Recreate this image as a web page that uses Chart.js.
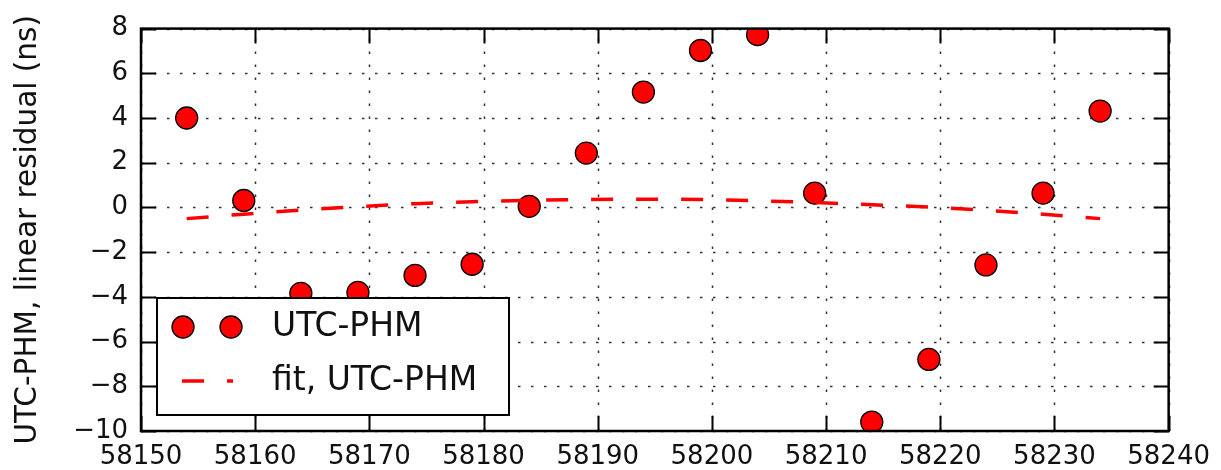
<!DOCTYPE html>
<html>
<head>
<meta charset="utf-8">
<script src="https://cdn.jsdelivr.net/npm/chart.js@4.4.1/dist/chart.umd.min.js"></script>
<style>
  html, body { margin: 0; padding: 0; background: #fff; }
  #wrap { width: 1221px; height: 470px; }
</style>
</head>
<body>
<div id="wrap"><canvas id="residChart"></canvas></div>
<script>
// MJD of each measurement
const mjd = [58154, 58159, 58164, 58169, 58174, 58179, 58184, 58189, 58194,
             58199, 58204, 58209, 58214, 58219, 58224, 58229, 58234];
// UTC-PHM linear residual (ns)
const utcPhm = [4.0, 0.31, -3.84, -3.8, -3.04, -2.54, 0.05, 2.43, 5.16,
                7.02, 7.73, 0.64, -9.6, -6.8, -2.57, 0.64, 4.31];
// fit, UTC-PHM (ns)
const fitUtcPhm = [-0.5, -0.3, -0.12, 0.04, 0.17, 0.26, 0.32, 0.36, 0.37,
                   0.36, 0.3, 0.22, 0.12, 0.02, -0.13, -0.3, -0.5];
const xTicks = [58150, 58160, 58170, 58180, 58190, 58200, 58210, 58220, 58230, 58240];
const yTicks = [-10, -8, -6, -4, -2, 0, 2, 4, 6, 8];

const legendItems = ['UTC-PHM', 'fit, UTC-PHM'];

const pts = (ys) => mjd.map((x, i) => ({ x: x, y: ys[i] }));
const fmt = v => String(v).replace('-', '\u2212');

// matplotlib-style frame: dotted grid, inward ticks on all sides, boxed legend
const framePlugin = {
  id: 'frame',
  beforeDatasetsDraw(chart) {
    const { ctx, chartArea: a, scales: { x, y } } = chart;
    ctx.save();
    ctx.strokeStyle = '#333';
    ctx.lineWidth = 1.5;
    ctx.setLineDash([2.5, 10.5]);
    xTicks.forEach(v => {
      const px = Math.round(x.getPixelForValue(v)) + 0.5;
      ctx.beginPath(); ctx.moveTo(px, a.bottom); ctx.lineTo(px, a.top); ctx.stroke();
    });
    yTicks.forEach(v => {
      const py = Math.round(y.getPixelForValue(v)) + 0.5;
      ctx.beginPath(); ctx.moveTo(a.left, py); ctx.lineTo(a.right, py); ctx.stroke();
    });
    ctx.restore();
  },
  afterDatasetsDraw(chart) {
    const { ctx, chartArea: a, scales: { x, y } } = chart;
    ctx.save();
    ctx.strokeStyle = '#000';
    ctx.lineWidth = 2;
    const tl = 15;
    xTicks.forEach(v => {
      const px = Math.round(x.getPixelForValue(v)) + 0.5;
      ctx.beginPath();
      ctx.moveTo(px, a.bottom); ctx.lineTo(px, a.bottom - tl);
      ctx.moveTo(px, a.top); ctx.lineTo(px, a.top + tl);
      ctx.stroke();
    });
    yTicks.forEach(v => {
      const py = Math.round(y.getPixelForValue(v)) + 0.5;
      ctx.beginPath();
      ctx.moveTo(a.left, py); ctx.lineTo(a.left + tl, py);
      ctx.moveTo(a.right, py); ctx.lineTo(a.right - tl, py);
      ctx.stroke();
    });
    ctx.lineWidth = 2.5;
    ctx.strokeRect(a.left, a.top, a.right - a.left, a.bottom - a.top);

    // legend box
    const bx = a.left + 16, bw = 352, bh = 117, by = a.bottom - 16 - bh;
    ctx.fillStyle = '#fff';
    ctx.fillRect(bx, by, bw, bh);
    ctx.lineWidth = 2;
    ctx.strokeRect(bx, by, bw, bh);

    const r1 = by + 29, r2 = by + 83;
    [bx + 26, bx + 74].forEach(mx => {
      ctx.beginPath();
      ctx.arc(mx, r1, 11, 0, Math.PI * 2);
      ctx.fillStyle = '#ff0000';
      ctx.fill();
      ctx.lineWidth = 1.3;
      ctx.strokeStyle = '#000';
      ctx.stroke();
    });
    ctx.beginPath();
    ctx.setLineDash([22, 23]);
    ctx.strokeStyle = '#ff0000';
    ctx.lineWidth = 3.5;
    ctx.moveTo(bx + 25, r2); ctx.lineTo(bx + 76, r2);
    ctx.stroke();
    ctx.setLineDash([]);

    ctx.fillStyle = '#111';
    ctx.font = '33px "DejaVu Sans"';
    ctx.textBaseline = 'middle';
    ctx.textAlign = 'left';
    ctx.fillText(legendItems[0], bx + 115, r1);
    ctx.fillText(legendItems[1], bx + 115, r2);
    ctx.restore();
  }
};

const ctx = document.getElementById('residChart');

new Chart(ctx, {
  type: 'scatter',
  data: {
    datasets: [
      {
        label: legendItems[0],
        data: pts(utcPhm),
        pointRadius: 11,
        pointHoverRadius: 11,
        backgroundColor: '#ff0000',
        borderColor: '#000',
        borderWidth: 1.3,
        clip: 0,
        order: 1
      },
      {
        label: legendItems[1],
        data: pts(fitUtcPhm),
        showLine: true,
        pointRadius: 0,
        borderColor: '#ff0000',
        borderWidth: 3.5,
        borderDash: [22, 23],
        clip: 0,
        order: 0
      }
    ]
  },
  options: {
    responsive: true,
    maintainAspectRatio: false,
    animation: false,
    layout: { padding: { top: 25, right: 47, left: 0, bottom: 0 } },
    plugins: {
      legend: { display: false },
      tooltip: { enabled: false }
    },
    scales: {
      x: {
        type: 'linear',
        min: 58150,
        max: 58240,
        afterBuildTicks: s => { s.ticks = xTicks.map(v => ({ value: v })); },
        afterFit: s => { s.height = 39; },
        grid: { display: false, drawTicks: false },
        border: { display: false },
        ticks: {
          autoSkip: false,
          maxRotation: 0,
          padding: 11,
          color: '#111',
          font: { family: 'DejaVu Sans', size: 26 },
          callback: v => fmt(v)
        }
      },
      y: {
        min: -10,
        max: 8,
        afterBuildTicks: s => { s.ticks = yTicks.map(v => ({ value: v })); },
        afterFit: s => { s.width = 141; },
        grid: { display: false, drawTicks: false },
        border: { display: false },
        title: {
          display: true,
          text: 'UTC-PHM, linear residual (ns)',
          color: '#111',
          font: { family: 'DejaVu Sans', size: 29.5 },
          padding: { top: 11, bottom: 0 }
        },
        ticks: {
          padding: 13,
          color: '#111',
          font: { family: 'DejaVu Sans', size: 26 },
          callback: v => fmt(v)
        }
      }
    }
  },
  plugins: [framePlugin]
});
</script>
</body>
</html>
